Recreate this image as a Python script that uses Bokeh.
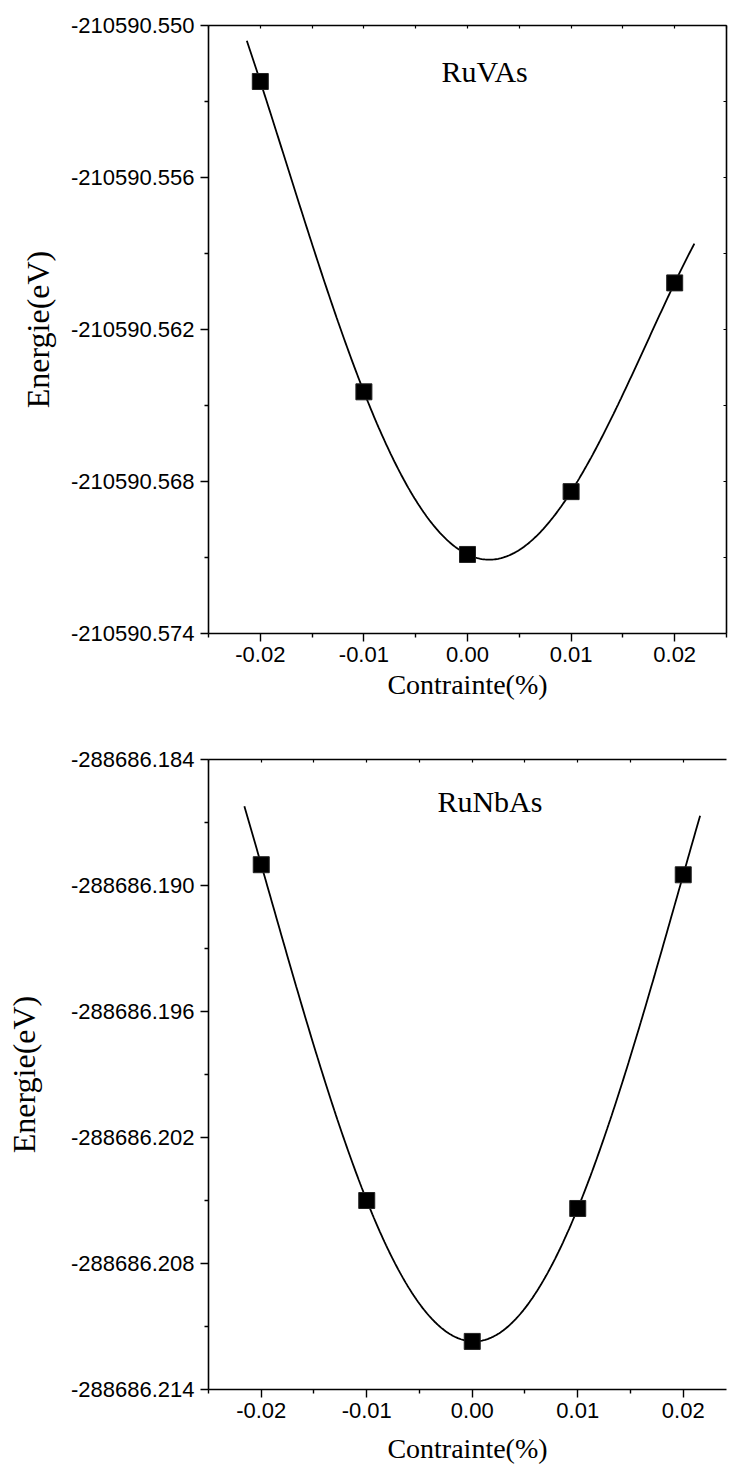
import numpy as np
from bokeh.plotting import figure
from bokeh.layouts import column
from bokeh.models import (FixedTicker, LinearAxis, CustomJSTickFormatter,
                          Range1d, Label)
from bokeh.embed import file_html
from bokeh.resources import INLINE

# ---------------- data ----------------
strain = [-0.02, -0.01, 0.00, 0.01, 0.02]
energy_ruvas = [-210590.55221, -210590.56446, -210590.57088, -210590.56840, -210590.56016]
energy_runbas = [-288686.18901, -288686.20500, -288686.21171, -288686.20538, -288686.18949]

x_ticks = [-0.02, -0.01, 0.00, 0.01, 0.02]
x_minor = [-0.025, -0.015, -0.005, 0.005, 0.015, 0.025]
y_ticks_ruvas = [-210590.574, -210590.568, -210590.562, -210590.556, -210590.550]
y_minor_ruvas = [-210590.571, -210590.565, -210590.559, -210590.553]
y_ticks_runbas = [-288686.214, -288686.208, -288686.202, -288686.196, -288686.190, -288686.184]
y_minor_runbas = [-288686.211, -288686.205, -288686.199, -288686.193, -288686.187]

fit_span_ruvas = (-0.0213, 0.0219)
fit_span_runbas = (-0.0216, 0.0216)

SANS = "Liberation Sans"
SERIF = "Liberation Serif"


def fit_curve(x, y, span):
    x = np.asarray(x)
    y = np.asarray(y)
    y0 = y[2]
    coef = np.polyfit(x / 0.01, y - y0, 4)
    xs = np.linspace(span[0], span[1], 300)
    ys = np.polyval(coef, xs / 0.01) + y0
    return xs, ys


def make_plot(x, y, yticks, yminor, span, name, xr, height, frame_w,
              bl, br, bt, bb, title_standoff, x_title_standoff, right_axis, label_pos):
    p = figure(width=bl + frame_w + br, height=height,
               x_range=Range1d(*xr), y_range=Range1d(yticks[0], yticks[-1]),
               min_border_left=bl, min_border_right=br,
               min_border_top=bt, min_border_bottom=bb,
               output_backend="svg", toolbar_location=None)
    p.grid.visible = False
    p.outline_line_color = None
    p.background_fill_color = "white"
    p.border_fill_color = "white"

    xs, ys = fit_curve(x, y, span)
    p.line(xs, ys, line_color="black", line_width=1.8)
    p.scatter(x, y, marker="square", size=16, fill_color="black",
              line_color="#222222")

    xa = p.xaxis[0]
    xa.ticker = FixedTicker(ticks=x_ticks, minor_ticks=x_minor)
    xa.formatter = CustomJSTickFormatter(code="return tick.toFixed(2);")
    ya = p.yaxis[0]
    ya.ticker = FixedTicker(ticks=yticks, minor_ticks=yminor)
    ya.formatter = CustomJSTickFormatter(code="return tick.toFixed(3);")
    for ax in (xa, ya):
        ax.major_tick_in = 0
        ax.major_tick_out = 8
        ax.minor_tick_in = 0
        ax.minor_tick_out = 4
        ax.axis_line_width = 1.6
        ax.major_tick_line_width = 1.4
        ax.minor_tick_line_width = 1.4
        ax.major_label_text_font = SANS
        ax.major_label_text_font_size = "22px"
        ax.major_label_text_color = "black"
        ax.major_label_standoff = 6
        ax.axis_label_text_font = SERIF
        ax.axis_label_text_font_style = "normal"
        ax.axis_label_text_color = "black"
    xa.major_label_standoff = 5
    xa.axis_label = "Contrainte(%)"
    xa.axis_label_text_font_size = "28px"
    xa.axis_label_standoff = x_title_standoff
    ya.axis_label = "Energie(eV)"
    ya.axis_label_text_font_size = "32px"
    ya.axis_label_standoff = title_standoff

    top = LinearAxis(ticker=FixedTicker(ticks=sorted(x_ticks + x_minor), minor_ticks=[]),
                     formatter=CustomJSTickFormatter(code="return '';"))
    top.major_tick_in = 3
    top.major_tick_out = 0
    top.minor_tick_in = 0
    top.minor_tick_out = 0
    top.major_label_standoff = 0
    top.axis_line_width = 1.6
    top.major_tick_line_width = 1.2
    p.add_layout(top, "above")

    if right_axis:
        right = LinearAxis(ticker=FixedTicker(ticks=sorted(yticks + yminor), minor_ticks=[]),
                           formatter=CustomJSTickFormatter(code="return '';"))
        right.major_tick_in = 3
        right.major_tick_out = 0
        right.minor_tick_in = 0
        right.minor_tick_out = 0
        right.major_label_standoff = 0
        right.axis_line_width = 1.6
        right.major_tick_line_width = 1.2
        p.add_layout(right, "right")

    lab = Label(x=label_pos[0], y=label_pos[1], text=name,
                text_font=SERIF, text_font_size="30px", text_color="black",
                text_align="left", text_baseline="alphabetic")
    p.add_layout(lab)
    return p


p1 = make_plot(strain, energy_ruvas, y_ticks_ruvas, y_minor_ruvas,
               fit_span_ruvas, "RuVAs", (-0.025, 0.025), height=730,
               frame_w=518, bl=208, br=8, bt=25, bb=97,
               title_standoff=12, x_title_standoff=4, right_axis=True,
               label_pos=(-0.0025, -210590.5518))

p2 = make_plot(strain, energy_runbas, y_ticks_runbas, y_minor_runbas,
               fit_span_runbas, "RuNbAs", (-0.025, 0.0241), height=738,
               frame_w=527, bl=206, br=1, bt=29, bb=79,
               title_standoff=26, x_title_standoff=12, right_axis=False,
               label_pos=(-0.0033, -288686.1860))

layout = column(p1, p2)
open("out.html", "w").write(file_html(layout, INLINE))
